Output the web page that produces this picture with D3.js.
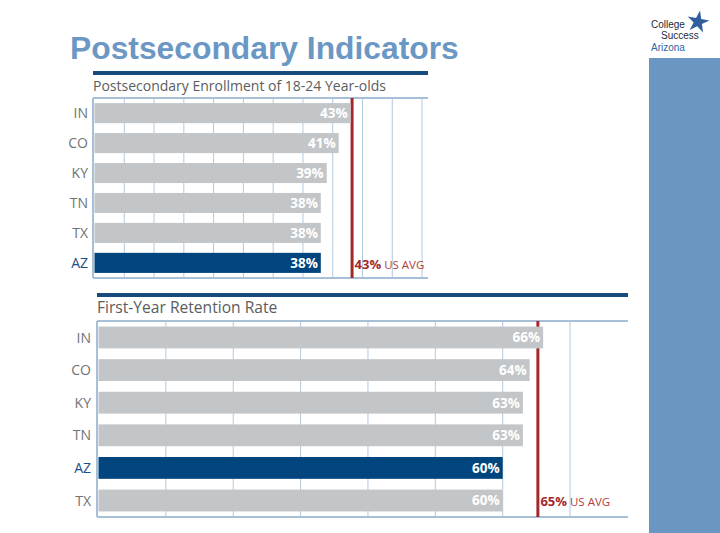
<!DOCTYPE html>
<html>
<head>
<meta charset="utf-8">
<script src="https://cdn.jsdelivr.net/npm/d3@7"></script>
<style>
  body { margin: 0; background: #fff; }
  svg { display: block; }
</style>
</head>
<body>
<svg id="slide" width="720" height="533"></svg>
<script>
// data
var enrollStates = ["IN", "CO", "KY", "TN", "TX", "AZ"]
var enrollValues = [43, 41, 39, 38, 38, 38]
var enrollAvg = 43

var retentionStates = ["IN", "CO", "KY", "TN", "AZ", "TX"]
var retentionValues = [66, 64, 63, 63, 60, 60]
var retentionAvg = 65

var highlight = "AZ"

var svg = d3.select("#slide")

// slide title
svg.append("text")
    .attr("x", 70).attr("y", 59)
    .style("font-family", "'Liberation Sans', Arial, sans-serif")
    .style("font-weight", "bold")
    .style("font-size", "31.8px")
    .style("fill", "#6b97c4")
    .text("Postsecondary Indicators")

// right sidebar
svg.append("rect")
    .attr("x", 649).attr("y", 58)
    .attr("width", 71).attr("height", 475)
    .style("fill", "#6a96c1")

// logo
var logo = svg.append("g").style("font-family", "'Liberation Sans', Arial, sans-serif")
logo.append("text").attr("x", 651).attr("y", 27.5).style("font-size", "10px").style("fill", "#1d2b3f").text("College")
logo.append("text").attr("x", 661).attr("y", 39).style("font-size", "10px").style("fill", "#1d2b3f").text("Success")
logo.append("text").attr("x", 651).attr("y", 50.5).style("font-size", "10px").style("fill", "#2f63a3").text("Arizona")
logo.append("path")
    .attr("d", d3.symbol(d3.symbolStar, 150)())
    .attr("transform", "translate(698,22) rotate(10)")
    .style("fill", "#2f5f9c")

drawPanel({
    title: "Postsecondary Enrollment of 18-24 Year-olds",
    states: enrollStates,
    values: enrollValues,
    avg: enrollAvg,
    left: 93, right: 428, max: 56,
    lineY: 73, titleY: 91, top: 98, bottom: 278,
    labelX: 88, titleSize: 14
})

drawPanel({
    title: "First-Year Retention Rate",
    states: retentionStates,
    values: retentionValues,
    avg: retentionAvg,
    left: 97, right: 628, max: 78.6,
    lineY: 295, titleY: 313, top: 321, bottom: 517,
    labelX: 91, titleSize: 15.6
})

function drawPanel(c) {
    var g = svg.append("g").style("font-family", "'Open Sans', sans-serif")

    var x = d3.scaleLinear()
        .domain([0, c.max])
        .range([c.left + 1.5, c.right])

    var y = d3.scaleBand()
        .domain(c.states)
        .range([c.top, c.bottom])
        .paddingInner(0.33)
        .paddingOuter(0.17)

    // navy rule above title
    g.append("line")
        .attr("x1", c.left).attr("x2", c.right)
        .attr("y1", c.lineY).attr("y2", c.lineY)
        .style("stroke", "#154b7d").style("stroke-width", 4)

    g.append("text")
        .attr("x", c.left).attr("y", c.titleY)
        .style("font-size", c.titleSize + "px")
        .style("fill", "#5a5d60")
        .text(c.title)

    // grid
    g.selectAll(".grid")
        .data(x.ticks(8).filter(d => d > 0))
        .enter().append("line")
        .attr("x1", d => x(d)).attr("x2", d => x(d))
        .attr("y1", c.top).attr("y2", c.bottom)
        .style("stroke", "#b4c9dd").style("stroke-width", 1)

    // frame: top, bottom, left
    g.append("line")
        .attr("x1", c.left).attr("x2", c.right)
        .attr("y1", c.top).attr("y2", c.top)
        .style("stroke", "#a7c0d8").style("stroke-width", 2)
    g.append("line")
        .attr("x1", c.left).attr("x2", c.right)
        .attr("y1", c.bottom).attr("y2", c.bottom)
        .style("stroke", "#a7c0d8").style("stroke-width", 2)
    g.append("line")
        .attr("x1", c.left).attr("x2", c.left)
        .attr("y1", c.top).attr("y2", c.bottom)
        .style("stroke", "#a7c0d8").style("stroke-width", 2)

    // US average marker (sits behind the bars)
    g.append("line")
        .attr("x1", x(c.avg) + 1.5).attr("x2", x(c.avg) + 1.5)
        .attr("y1", c.top).attr("y2", c.bottom)
        .style("stroke", "#a3282c").style("stroke-width", 3)

    var rows = c.states.map((s, i) => ({ state: s, value: c.values[i] }))

    g.selectAll(".bar")
        .data(rows)
        .enter().append("rect")
        .attr("x", x(0))
        .attr("y", d => y(d.state))
        .attr("width", d => x(d.value) - x(0))
        .attr("height", y.bandwidth())
        .style("fill", d => d.state == highlight ? "#00457e" : "#c3c6c9")

    g.selectAll(".val")
        .data(rows)
        .enter().append("text")
        .attr("x", d => x(d.value) - 3)
        .attr("y", d => y(d.state) + y.bandwidth() / 2)
        .attr("dy", "0.36em")
        .attr("text-anchor", "end")
        .style("font-size", "13.5px")
        .style("font-weight", "bold")
        .style("fill", "#fff")
        .text(d => d.value + "%")

    g.selectAll(".lab")
        .data(rows)
        .enter().append("text")
        .attr("x", c.labelX)
        .attr("y", d => y(d.state) + y.bandwidth() / 2)
        .attr("dy", "0.36em")
        .attr("text-anchor", "end")
        .style("font-size", "14px")
        .style("fill", d => d.state == highlight ? "#1f4e86" : "#707376")
        .text(d => d.state)

    var last = c.states[c.states.length - 1]
    var avgText = g.append("text")
        .attr("x", x(c.avg) + 4)
        .attr("y", y(last) + y.bandwidth() / 2)
        .attr("dy", "0.36em")
        .style("fill", "#a3282c")
    avgText.append("tspan")
        .style("font-weight", "bold").style("font-size", "13px")
        .text(c.avg + "%")
    avgText.append("tspan")
        .attr("dx", 3)
        .style("font-size", "11.5px").style("fill", "#b0403f")
        .text("US AVG")
}
</script>
</body>
</html>
